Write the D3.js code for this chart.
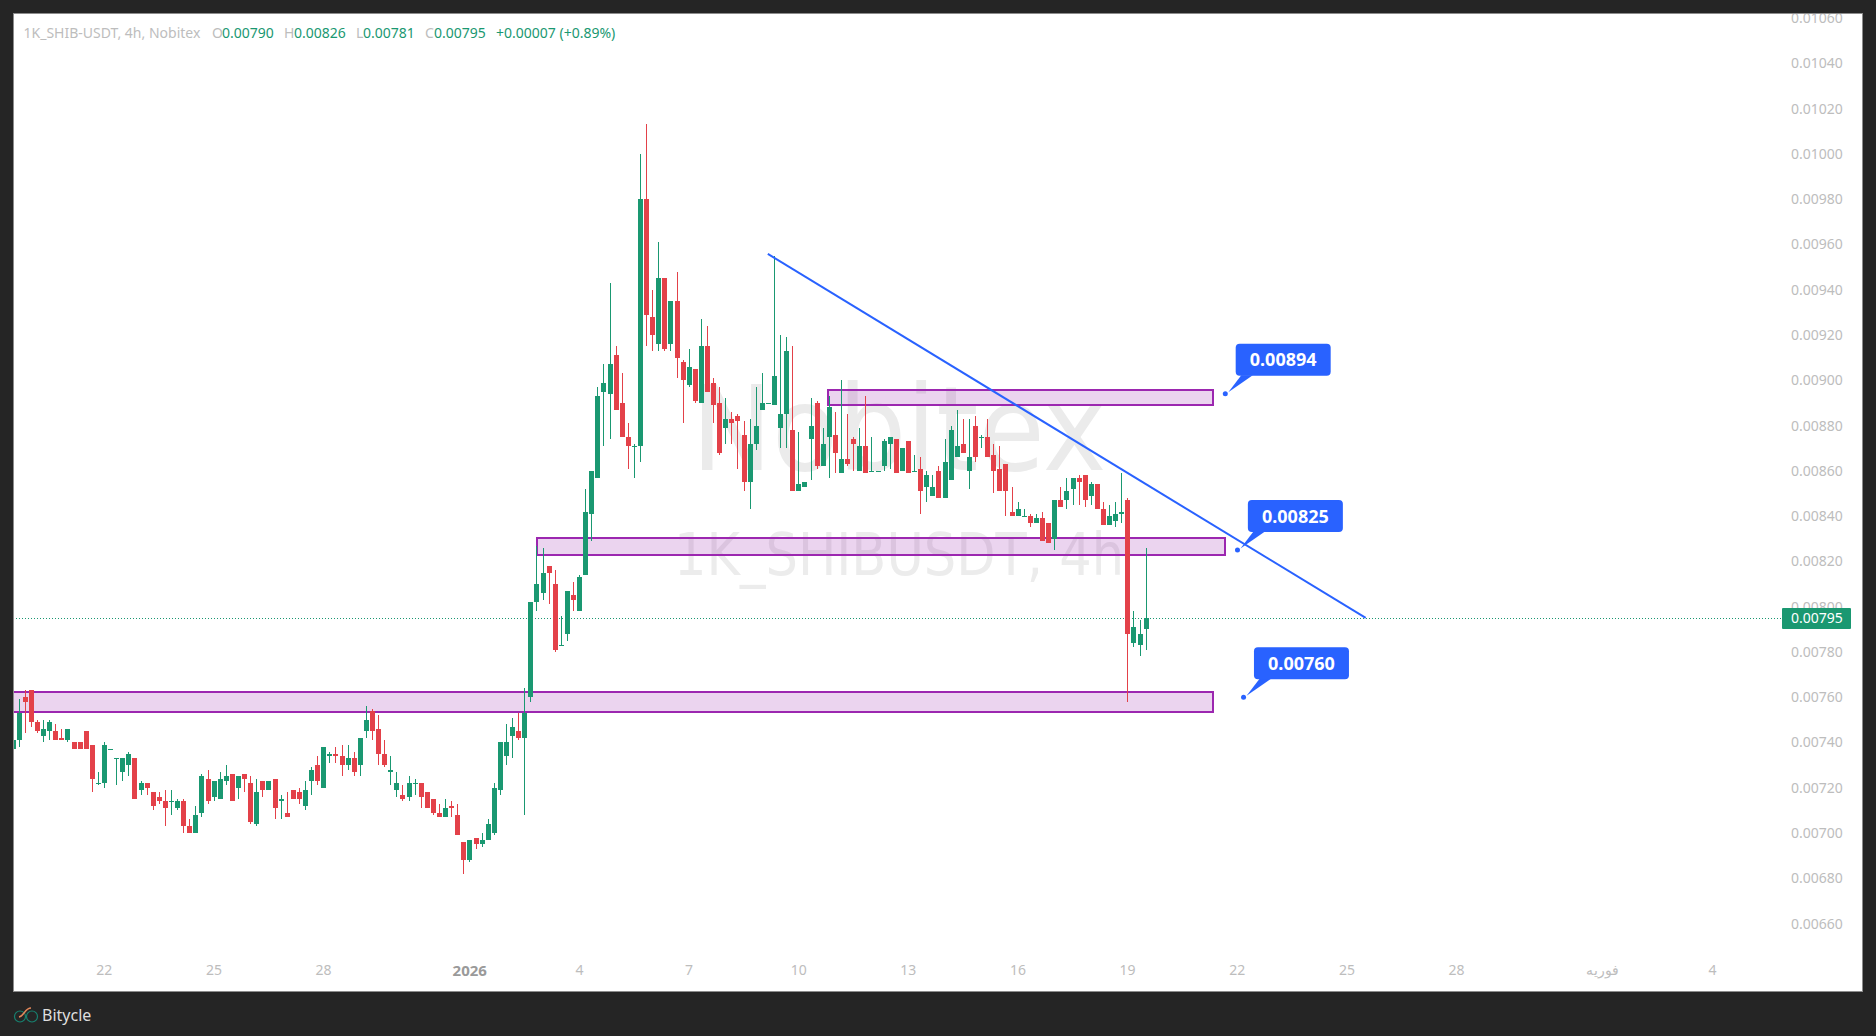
<!DOCTYPE html>
<html>
<head>
<meta charset="utf-8">
<title>1K_SHIB-USDT 4h</title>
<script src="https://cdn.jsdelivr.net/npm/d3@7/dist/d3.min.js"></script>
<style>
  html, body { margin: 0; padding: 0; background: #252525; overflow: hidden; }
  svg { display: block; }
  text { font-family: "Noto Sans", sans-serif; }
</style>
</head>
<body>
<svg id="chart" width="1876" height="1036"></svg>
<script>
// Prices are stored in units of 0.00001 USDT, one entry per 4h bar.
const PRICE_UNIT = 0.00001;

const opens = [
  737,741,760,763,749,743,745,745,742,741,
  740,740,745,739,722,722,737,733,727,730,
  733,719,722,718,716,714,714,711,714,703,
  700,709,724,716,715,723,726,720,726,722,
  704,723,719,724,714,709,719,718,712,723,
  730,720,734,735,734,730,733,730,745,754,
  746,735,727,719,717,716,722,722,718,715,
  709,707,712,708,696,688,698,695,697,700,
  719,734,743,745,742,760,802,806,818,810,
  783,788,805,798,814,841,857,895,894,911,
  890,875,871,871,980,928,916,945,916,935,
  908,898,905,890,915,899,890,879,883,884,
  876,855,872,887,890,889,879,885,878,851,
  853,874,890,862,875,876,859,865,874,860,
  871,860,860,862,872,874,860,873,860,861,
  853,849,860,848,856,866,872,860,880,875,
  875,867,861,863,842,840,840,840,837,839,
  837,830,847,847,852,857,858,849,854,843,
  836,838,841,847,784,783,790
];
const closes = [
  741,753,758,749,745,746,749,741,741,746,
  737,737,737,724,722,739,737,733,733,735,
  715,722,720,712,714,711,714,714,703,700,
  708,725,714,723,724,725,714,725,724,705,
  718,719,723,711,715,707,715,715,719,728,
  723,738,735,734,730,733,727,742,750,745,
  735,730,728,722,715,722,722,716,711,709,
  707,711,711,699,688,697,695,697,704,720,
  740,740,747,742,753,802,810,815,815,781,
  783,807,803,813,842,860,893,899,907,887,
  875,871,871,980,929,920,945,914,935,910,
  900,906,891,915,895,889,868,883,881,882,
  855,872,880,890,890,902,885,913,851,854,
  855,880,862,872,888,868,865,863,872,871,
  859,860,860,873,875,859,870,859,860,851,
  858,853,848,864,878,871,868,866,866,875,
  866,860,851,851,840,843,840,837,839,829,
  828,847,844,851,857,855,847,854,843,836,
  840,841,842,788,791,788,795
];
const highs = [
  741,759,763,763,750,750,750,748,746,746,
  740,740,745,739,727,740,737,733,733,736,
  733,723,722,718,718,719,719,715,715,706,
  712,726,728,723,727,730,726,725,726,725,
  724,723,723,724,717,718,719,720,723,729,
  734,738,736,738,739,739,736,742,756,755,
  752,741,734,727,721,725,724,722,718,715,
  713,715,714,713,696,697,698,700,706,722,
  740,748,751,753,764,802,827,826,818,816,
  796,807,811,814,852,860,897,907,943,915,
  903,881,872,1000,1013,940,961,945,935,948,
  909,914,905,927,924,901,897,892,886,885,
  882,883,897,903,890,955,920,919,915,877,
  855,892,891,879,893,886,900,885,875,879,
  893,875,860,874,875,874,870,873,867,866,
  860,858,862,874,880,887,883,883,884,876,
  883,872,871,863,853,846,843,841,841,842,
  837,847,853,857,857,858,858,855,854,846,
  845,846,859,848,798,794,826
];
const lows = [
  733,738,744,747,744,740,741,741,741,740,
  737,737,737,718,721,720,737,721,723,725,
  715,717,717,710,713,703,708,710,700,700,
  700,707,713,714,715,721,714,715,718,704,
  703,716,719,706,706,707,715,713,710,717,
  721,720,731,731,725,728,725,725,742,741,
  730,729,721,716,714,714,717,711,711,708,
  707,707,707,699,682,687,693,694,697,699,
  717,730,733,741,708,758,798,803,801,780,
  783,785,798,798,814,829,857,871,874,887,
  875,861,857,864,915,913,913,913,913,901,
  881,897,890,890,895,881,867,872,872,861,
  851,843,869,887,890,889,870,870,851,851,
  853,856,861,862,857,859,859,862,860,860,
  859,860,860,860,861,859,860,859,860,841,
  846,849,848,848,856,866,868,852,864,870,
  866,850,851,840,840,840,840,835,837,829,
  828,825,844,843,845,845,844,845,843,836,
  836,835,837,758,782,778,781
];

// Price axis ticks, in the same units.
const priceTicks = [660,680,700,720,740,760,780,800,820,840,860,880,900,920,940,960,980,1000,1020,1040,1060];

// Time axis: bar index and label.
const timeTickBars = [15,33,51,75,93,111,129,147,165,183,201,219,237,261,279];
const timeTickLabels = ["22","25","28","2026","4","7","10","13","16","19","22","25","28","فوریه","4"];

// Drawn objects: bar index spans and price bands.
const zoneStarts = [133.85, 86, -3];
const zoneEnds   = [197, 199, 197];
const zoneTops   = [895.8, 830.3, 762.3];
const zoneBottoms= [889.1, 822.8, 753.5];

const trendBars   = [123.9, 222.05];
const trendPrices = [955.8, 795];

const calloutBars   = [199, 201, 202];
const calloutPrices = [894, 825, 760];

const lastPrice = closes[closes.length - 1];

const GREEN = "#1a9871", RED = "#e34149", BLUE = "#2962ff", PURPLE = "#9c27b0";
const plot = { left: 13, top: 13, right: 1863, bottom: 992 };

const fmt = d3.format(".5f");
const price = p => fmt(p * PRICE_UNIT);

const x = d3.scaleLinear().domain([0, 186]).range([13.1, 1146.1]);
const y = d3.scaleLinear().domain([660, 1060]).range([923.6, 18]);

const svg = d3.select("#chart");

svg.append("rect").attr("x", 0).attr("y", 0).attr("width", 1876).attr("height", 1036).attr("fill", "#252525");
svg.append("rect")
  .attr("x", plot.left).attr("y", plot.top)
  .attr("width", plot.right - plot.left).attr("height", plot.bottom - plot.top)
  .attr("fill", "#ffffff");

svg.append("defs").append("clipPath").attr("id", "plot-clip")
  .append("rect")
  .attr("x", plot.left).attr("y", plot.top)
  .attr("width", plot.right - plot.left).attr("height", plot.bottom - plot.top);

// Watermark behind the series.
svg.append("text").attr("x", 899).attr("y", 470)
  .attr("text-anchor", "middle").attr("font-size", 118).attr("fill", "#ebebeb")
  .style("font-family", '"DejaVu Sans", sans-serif')
  .attr("textLength", 415).attr("lengthAdjust", "spacingAndGlyphs")
  .text("Nobitex");
svg.append("text").attr("x", 899).attr("y", 575)
  .attr("text-anchor", "middle").attr("font-size", 59).attr("fill", "#ececec")
  .style("font-family", '"DejaVu Sans", sans-serif')
  .attr("textLength", 450).attr("lengthAdjust", "spacingAndGlyphs")
  .text("1K_SHIBUSDT, 4h");

// Axes.
const yAxis = d3.axisRight(y).tickValues(priceTicks).tickSize(0).tickPadding(0).tickFormat(price);
const yG = svg.append("g").attr("transform", "translate(1791,0)").call(yAxis);
yG.select(".domain").remove();
yG.selectAll("text").attr("fill", "#bdbdbd").attr("font-size", 14).attr("font-family", '"Noto Sans", sans-serif');

const xAxis = d3.axisBottom(x).tickValues(timeTickBars).tickSize(0).tickPadding(0)
  .tickFormat((d, i) => timeTickLabels[i]);
const xG = svg.append("g").attr("transform", "translate(-0.7,965)").call(xAxis);
xG.select(".domain").remove();
xG.selectAll("text")
  .attr("fill", "#bdbdbd").attr("font-size", 14).attr("font-family", '"Noto Sans", sans-serif')
  .filter((d, i) => timeTickLabels[i] === "2026")
  .attr("font-weight", 700).attr("font-size", 15).attr("fill", "#9a9a9a");

const content = svg.append("g").attr("clip-path", "url(#plot-clip)");

// Support and resistance bands.
content.append("g").selectAll("rect").data(zoneStarts).join("rect")
  .attr("x", d => Math.round(x(d)))
  .attr("y", (d, i) => Math.round(y(zoneTops[i])))
  .attr("width", (d, i) => Math.round(x(zoneEnds[i])) - Math.round(x(d)))
  .attr("height", (d, i) => Math.round(y(zoneBottoms[i])) - Math.round(y(zoneTops[i])))
  .attr("fill", PURPLE).attr("fill-opacity", 0.2)
  .attr("stroke", PURPLE).attr("stroke-width", 2);

// Last price line.
content.append("line")
  .attr("x1", plot.left).attr("x2", 1782)
  .attr("y1", Math.round(y(lastPrice)) + 0.5).attr("y2", Math.round(y(lastPrice)) + 0.5)
  .attr("stroke", GREEN).attr("stroke-width", 1).attr("stroke-dasharray", "1 2");

// Candles: wick first, then the body over it.
const bars = d3.range(opens.length);
const colour = i => closes[i] >= opens[i] ? GREEN : RED;
const cx = i => Math.floor(x(i));
const candles = content.append("g");
candles.selectAll("rect.wick").data(bars).join("rect")
  .attr("class", "wick")
  .attr("x", cx).attr("width", 1)
  .attr("y", i => Math.round(y(highs[i])))
  .attr("height", i => Math.max(1, Math.round(y(lows[i])) - Math.round(y(highs[i]))))
  .attr("fill", colour);
candles.selectAll("rect.body").data(bars).join("rect")
  .attr("class", "body")
  .attr("x", i => cx(i) - 2).attr("width", 5)
  .attr("y", i => Math.round(y(Math.max(opens[i], closes[i]))))
  .attr("height", i => Math.max(1, Math.round(y(Math.min(opens[i], closes[i]))) - Math.round(y(Math.max(opens[i], closes[i])))))
  .attr("fill", colour);

// Trend line.
content.append("line")
  .attr("x1", x(trendBars[0])).attr("y1", y(trendPrices[0]))
  .attr("x2", x(trendBars[1])).attr("y2", y(trendPrices[1]))
  .attr("stroke", BLUE).attr("stroke-width", 2);

// Callouts anchored on their price levels.
const callouts = content.append("g").selectAll("g").data(calloutBars).join("g")
  .attr("transform", (d, i) => `translate(${x(d)},${y(calloutPrices[i])})`);
callouts.append("path").attr("d", "M3,-1.5 L16,-18.5 L27.5,-18.5 Z").attr("fill", BLUE);
callouts.append("circle").attr("r", 2.5).attr("fill", BLUE);
callouts.append("rect")
  .attr("x", 10.4).attr("y", -50).attr("width", 95).attr("height", 32).attr("rx", 4)
  .attr("fill", BLUE);
callouts.append("text")
  .attr("x", 57.9).attr("y", -27.5).attr("text-anchor", "middle")
  .attr("font-size", 18).attr("font-weight", 700).attr("fill", "#ffffff")
  .text((d, i) => price(calloutPrices[i]));

// Last price tag.
svg.append("rect")
  .attr("x", 1782).attr("y", 608).attr("width", 69).attr("height", 21).attr("rx", 1)
  .attr("fill", GREEN);
svg.append("text")
  .attr("x", 1791).attr("y", y(lastPrice)).attr("dy", "0.36em")
  .attr("font-size", 14).attr("fill", "#ffffff")
  .text(price(lastPrice));

// Plot frame.
svg.append("rect")
  .attr("x", plot.left + 0.5).attr("y", plot.top + 0.5)
  .attr("width", plot.right - plot.left - 1).attr("height", plot.bottom - plot.top - 1)
  .attr("fill", "none").attr("stroke", "#8c8c8c");

// Header with the symbol and last bar values.
const n = opens.length - 1;
const change = closes[n] - 788;
const legendItems = [
  { x: 23.5, t: "1K_SHIB-USDT, 4h, Nobitex", c: "#bdbdbd" },
  { x: 212, t: "O", c: "#bdbdbd" }, { x: 222, t: price(opens[n]), c: GREEN },
  { x: 284, t: "H", c: "#bdbdbd" }, { x: 294, t: price(highs[n]), c: GREEN },
  { x: 356, t: "L", c: "#bdbdbd" }, { x: 363, t: price(lows[n]), c: GREEN },
  { x: 425, t: "C", c: "#bdbdbd" }, { x: 434, t: price(closes[n]), c: GREEN },
  { x: 496, t: `+${price(change)} (+0.89%)`, c: GREEN }
];
svg.append("g").selectAll("text").data(legendItems).join("text")
  .attr("x", d => d.x).attr("y", 38)
  .attr("font-size", 14).attr("fill", d => d.c)
  .text(d => d.t);

// Footer brand mark.
const brand = svg.append("g").attr("fill", "none").attr("stroke-width", 1.2);
brand.append("circle").attr("cx", 20).attr("cy", 1016.5).attr("r", 5.5).attr("stroke", "#17806f");
brand.append("circle").attr("cx", 32).attr("cy", 1016.5).attr("r", 5.5).attr("stroke", "#17806f");
brand.append("path").attr("d", "M19,1017 C24,1016 25,1008 31,1008").attr("stroke", "#e2875a").attr("stroke-width", 1.5);
svg.append("text").attr("x", 42).attr("y", 1020.5)
  .attr("font-size", 16).attr("fill", "#dedede").text("Bitycle");
</script>
</body>
</html>
